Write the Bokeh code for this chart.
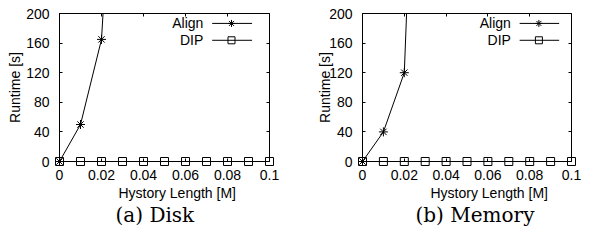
from bokeh.plotting import figure
from bokeh.layouts import row
from bokeh.models import FixedTicker, LinearAxis, Label, Range1d, Title, CustomLabelingPolicy
from bokeh.embed import file_html
from bokeh.resources import INLINE

# ---------------- data ----------------
history_length = [0, 0.01, 0.02, 0.03, 0.04, 0.05, 0.06, 0.07, 0.08, 0.09, 0.1]

align_x = [0, 0.01, 0.02, 0.03]
align_disk = [0, 50, 165, 640]
align_memory = [0, 40, 120, 850]

dip_disk = [0, 0, 0, 0, 0, 0, 0, 0, 0, 0, 0]
dip_memory = [0, 0, 0, 0, 0, 0, 0, 0, 0, 0, 0]

x_ticks = [0, 0.02, 0.04, 0.06, 0.08, 0.1]
x_tick_labels = ["0", "0.02", "0.04", "0.06", "0.08", "0.1"]
y_ticks = [0, 40, 80, 120, 160, 200]
y_tick_labels = ["0", "40", "80", "120", "160", "200"]

series_names = ["Align", "DIP"]
captions = ["(a) Disk", "(b) Memory"]
x_label = "Hystory Length [M]"
y_label = "Runtime [s]"

FONT = "Liberation Sans"
HIDE_ALL = CustomLabelingPolicy(code="""
for (const i of [...indices]) { indices.unset(i) }
return indices
""")


def make_panel(align_y, dip_y, caption, width, b_left, b_right, ylab_standoff,
               leg_text_x, leg_line_x, leg_marker_x, xlab_offset, cap_offset):
    p = figure(width=width, height=226, output_backend="svg", toolbar_location=None,
               x_range=Range1d(0, 0.1), y_range=Range1d(0, 200),
               min_border_left=b_left, min_border_right=b_right,
               min_border_top=13, min_border_bottom=64)
    p.background_fill_color = None
    p.border_fill_color = None
    p.outline_line_color = "black"
    p.outline_line_width = 1
    p.xgrid.visible = False
    p.ygrid.visible = False

    for ax in p.xaxis:
        ax.ticker = FixedTicker(ticks=x_ticks)
        ax.major_label_overrides = dict(zip(x_ticks, x_tick_labels))
        ax.major_label_standoff = 8
    for ax in p.yaxis:
        ax.ticker = FixedTicker(ticks=y_ticks)
        ax.major_label_overrides = dict(zip(y_ticks, y_tick_labels))
        ax.axis_label = y_label
        ax.major_label_standoff = 10
        ax.axis_label_standoff = ylab_standoff

    main_axes = list(p.xaxis) + list(p.yaxis)
    for ax in main_axes:
        ax.major_label_text_font = FONT
        ax.major_label_text_font_size = "14px"
        ax.major_label_text_color = "black"
        ax.axis_label_text_font = FONT
        ax.axis_label_text_font_style = "normal"
        ax.axis_label_text_font_size = "14px"
        ax.axis_label_text_color = "black"
        ax.axis_line_color = "black"

    # mirrored axes (ticks only, no labels)
    top = LinearAxis(ticker=FixedTicker(ticks=x_ticks), major_label_policy=HIDE_ALL)
    right = LinearAxis(ticker=FixedTicker(ticks=y_ticks), major_label_policy=HIDE_ALL)
    for ax in (top, right):
        ax.major_label_text_font_size = "0px"
        ax.major_label_standoff = 0
        ax.axis_line_color = None
    p.add_layout(top, "above")
    p.add_layout(right, "right")

    for ax in main_axes + [top, right]:
        ax.major_tick_in = 3
        ax.major_tick_out = 0
        ax.minor_tick_line_color = None
        ax.major_tick_line_color = "black"

    # data
    p.line(align_x, align_y, line_color="black", line_width=1)
    p.scatter(align_x, align_y, marker="asterisk", size=9, line_color="black",
              line_width=1, level="overlay")
    p.line(history_length, dip_y, line_color="black", line_width=1)
    p.scatter(history_length, dip_y, marker="square", size=8, line_color="black",
              fill_color=None, line_width=1, level="overlay")

    # legend (gnuplot style: text, then sample line with marker)
    leg_y = [186.6, 163.8]
    markers = ["asterisk", "square"]
    for name, yy, mk in zip(series_names, leg_y, markers):
        p.add_layout(Label(x=leg_text_x, y=yy, text=name, text_align="right",
                           text_baseline="middle", text_font=FONT,
                           text_font_size="14px", text_color="black"))
        p.line(leg_line_x, [yy, yy], line_color="black", line_width=1)
        p.scatter([leg_marker_x], [yy], marker=mk, size=7, line_color="black",
                  fill_color=None, line_width=1)

    # x axis title (gnuplot places it slightly right of centre)
    p.add_layout(Title(text=x_label, align="left", offset=xlab_offset, standoff=0,
                       text_font=FONT, text_font_size="14px",
                       text_font_style="normal", text_color="black"), "below")
    # caption
    p.add_layout(Title(text=caption, align="left", offset=cap_offset, standoff=0,
                       text_font="DejaVu Serif", text_font_size="20px",
                       text_font_style="normal", text_color="black"), "below")
    return p


p1 = make_panel(align_disk, dip_disk, captions[0], 296, 59, 27, 0,
                0.0685, [0.0727, 0.0917], 0.0819, 59, 56)
p2 = make_panel(align_memory, dip_memory, captions[1], 286, 66, 11, -7,
                0.0710, [0.0752, 0.0941], 0.0844, 68, 53)

layout = row(p1, p2, spacing=0)
open("out.html", "w").write(file_html(layout, INLINE))
